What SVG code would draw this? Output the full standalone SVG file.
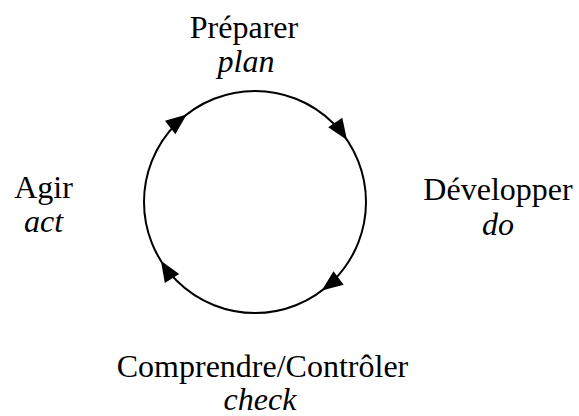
<svg xmlns="http://www.w3.org/2000/svg" width="579" height="416" viewBox="0 0 579 416">
<style>
.lbl{font-family:'Liberation Serif','Times New Roman','DejaVu Serif',serif;font-size:32px;fill:#000;text-anchor:middle}
.it{font-style:italic}
.cyc{fill:none;stroke:#000;stroke-width:2}
.head{fill:#000;stroke:none}
</style>
<defs>
<polygon id="ah" points="0,0 -21,-8.5 -21,8.5"/>
</defs>
<rect width="579" height="416" fill="#fff"/>
<g id="connectors">
<circle class="cyc" cx="255" cy="202" r="111"/>
<use href="#ah" class="head" transform="translate(186.7,114.5) rotate(322)"/>
<use href="#ah" class="head" transform="translate(347,139.9) rotate(56)"/>
<use href="#ah" class="head" transform="translate(321.8,290.6) rotate(143)"/>
<use href="#ah" class="head" transform="translate(160.9,260.8) rotate(238)"/>
</g>
<g id="plan" class="lbl" font-family="Liberation Serif, serif">
<text x="244" y="38">Préparer</text>
<text class="it" x="246" y="72">plan</text>
</g>
<g id="do" class="lbl" font-family="Liberation Serif, serif">
<text x="498" y="200">Développer</text>
<text class="it" x="498" y="235">do</text>
</g>
<g id="check" class="lbl" font-family="Liberation Serif, serif">
<text x="262.5" y="377">Comprendre/Contrôler</text>
<text class="it" x="260" y="410">check</text>
</g>
<g id="act" class="lbl" font-family="Liberation Serif, serif">
<text x="43.5" y="198">Agir</text>
<text class="it" x="43.5" y="232">act</text>
</g>
</svg>
